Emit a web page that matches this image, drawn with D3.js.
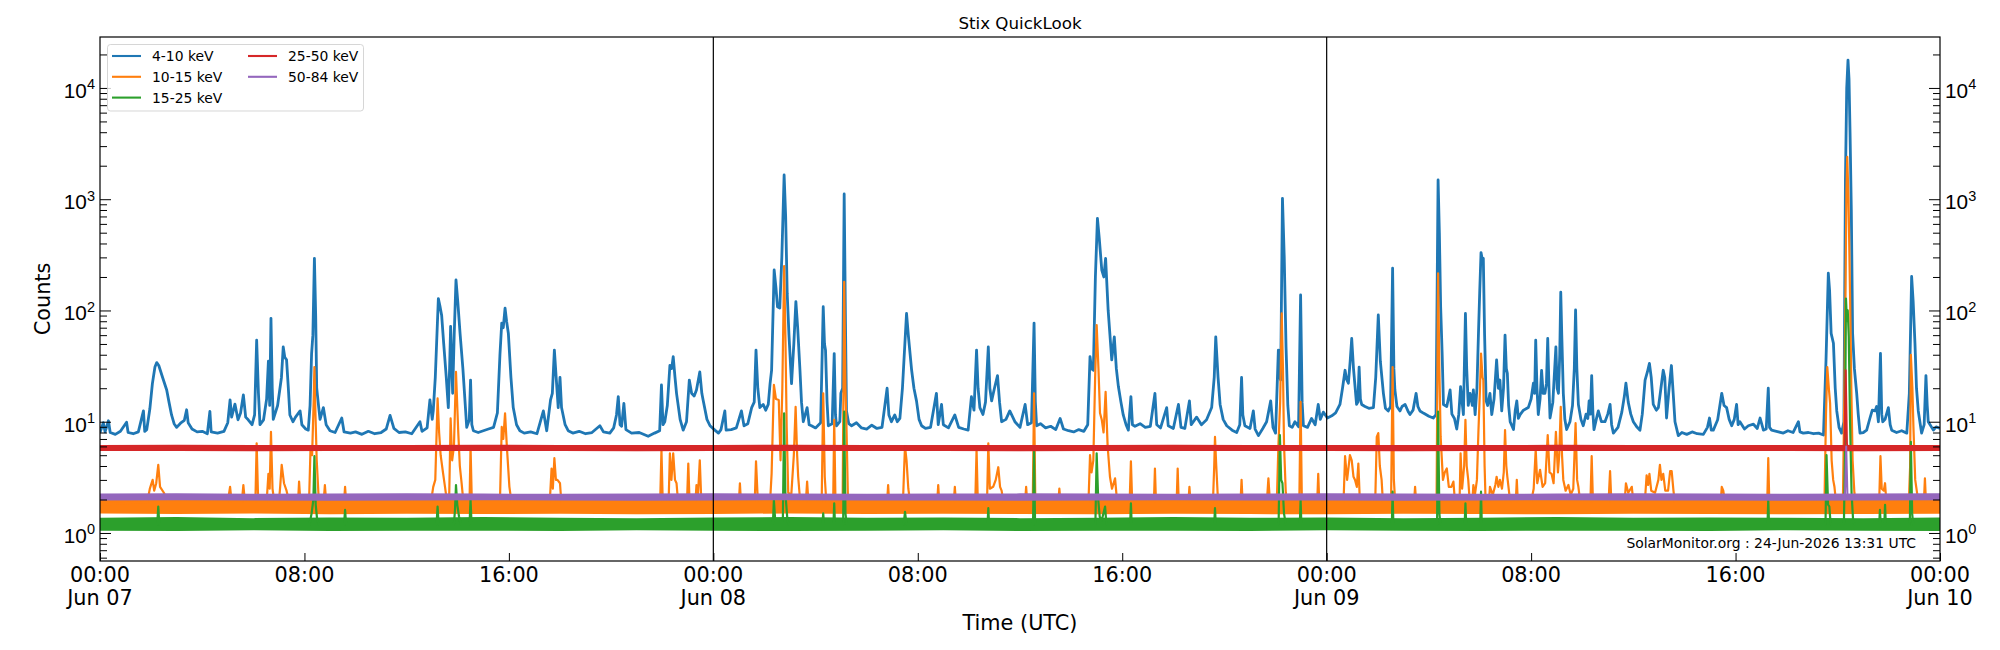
<!DOCTYPE html>
<html>
<head>
<meta charset="utf-8">
<script src="https://cdn.jsdelivr.net/npm/d3@7"></script>
<style>
body { margin: 0; background: #fff; }
svg { display: block; font-family: "DejaVu Sans", sans-serif; }
</style>
</head>
<body>
<svg id="chart" width="2000" height="650"></svg>
<script>
// times are hours since 2026-06-07 00:00 UTC, values are counts
var blue410 = [[0,8.0],[0.13,9.8],[0.2,8.1],[0.33,10.2],[0.4,8.0],[0.6,7.7],[0.8,8.2],[1.04,9.9],[1.1,8.0],[1.3,7.8],[1.5,8.1],[1.7,12.5],[1.75,8.2],[1.83,8.5],[1.95,13],[2.05,22],[2.15,31],[2.22,34],[2.3,32],[2.45,25],[2.61,19.3],[2.7,15],[2.8,11.5],[2.9,9.6],[3.0,8.9],[3.15,9.7],[3.3,10.3],[3.39,12.8],[3.45,9.8],[3.6,8.6],[3.8,8.1],[4.0,8.2],[4.2,7.8],[4.3,12.4],[4.35,8.1],[4.6,7.9],[4.85,8.2],[5.0,9.8],[5.09,15.7],[5.15,11],[5.28,14.4],[5.4,10.4],[5.5,12],[5.61,17.4],[5.7,11],[5.8,10.4],[5.95,9.4],[6.05,11.5],[6.13,54],[6.2,18],[6.26,9.4],[6.4,10.4],[6.52,16],[6.59,35],[6.64,14],[6.69,85],[6.74,20],[6.78,10.5],[6.95,14],[7.1,25],[7.17,47],[7.23,38],[7.3,36],[7.37,20],[7.43,11.5],[7.55,10],[7.65,11],[7.83,12.5],[7.9,9.4],[8.05,8.6],[8.15,8.4],[8.22,14],[8.28,41],[8.33,60],[8.39,294],[8.44,90],[8.48,20],[8.55,14],[8.61,10.5],[8.74,13.4],[8.85,9.4],[9.0,8.3],[9.2,8.0],[9.46,10.8],[9.55,8.1],[9.8,7.9],[10.0,8.1],[10.25,7.7],[10.5,8.2],[10.75,7.8],[11.0,8.0],[11.2,8.6],[11.35,11.4],[11.5,8.7],[11.7,8.0],[11.95,8.1],[12.2,7.8],[12.52,10],[12.6,8.2],[12.8,8.8],[12.91,15.7],[13.0,10.5],[13.04,12.5],[13.12,25],[13.24,128],[13.3,110],[13.37,90],[13.45,50],[13.55,25],[13.63,13.4],[13.68,30],[13.72,72],[13.76,35],[13.8,18],[13.86,60],[13.93,188],[14.0,120],[14.09,62],[14.2,30],[14.35,8.9],[14.45,10.4],[14.5,23.7],[14.55,9.4],[14.61,8.3],[14.8,8.0],[15.0,8.3],[15.2,8.6],[15.4,8.9],[15.55,12],[15.65,40],[15.72,77],[15.78,70],[15.85,105],[15.91,80],[15.98,62],[16.08,25],[16.17,13.4],[16.3,9.4],[16.43,8.3],[16.6,7.9],[16.85,8.1],[17.1,7.8],[17.35,12.5],[17.48,8.3],[17.63,15.7],[17.7,18],[17.78,44],[17.85,25],[17.93,13.4],
[18.0,25],[18.06,13.4],[18.2,9.4],[18.32,8.3],[18.5,7.9],[18.75,8.2],[19.0,7.8],[19.25,8.0],[19.56,9.2],[19.7,8.1],[19.95,7.9],[20.1,8.8],[20.21,11.5],[20.28,16.8],[20.35,9.4],[20.41,9.1],[20.5,14.6],[20.58,8.5],[20.8,7.9],[21.1,8.0],[21.45,7.4],[21.7,7.9],[21.9,8.3],[21.97,21.4],[22.03,9.4],[22.1,10],[22.2,14],[22.3,32],[22.37,30],[22.43,38.5],[22.5,25],[22.56,18],[22.7,10.5],[22.82,8.4],[22.95,10],[23.06,23.7],[23.15,18],[23.25,17],[23.34,19.3],[23.47,28],[23.55,18],[23.6,15.7],[23.75,10.5],[23.87,9.2],[24.06,8.4],[24.2,7.9],[24.3,8.5],[24.45,12.5],[24.5,8.4],[24.7,8.5],[24.9,8.8],[25.1,12.5],[25.2,9.2],[25.35,9.6],[25.5,13.4],[25.6,15],[25.67,44],[25.74,20],[25.82,13.4],[25.95,14.3],[26.05,12.7],[26.15,14.3],[26.22,22],[26.28,29],[26.38,231],[26.45,160],[26.51,108],[26.6,105],[26.68,300],[26.77,1650],[26.83,700],[26.89,143],[26.96,60],[27.06,22],[27.15,50],[27.23,120],[27.3,70],[27.39,29],[27.45,15],[27.52,10],[27.67,13.4],[27.75,9.4],[27.84,9.2],[28.0,8.8],[28.2,9.8],[28.3,108],[28.35,50],[28.39,44],[28.45,15],[28.5,9.2],[28.65,9.6],[28.73,41],[28.78,11.5],[28.82,9.2],[28.95,10],[28.99,18],[29.06,20],[29.12,1114],[29.17,80],[29.21,12.5],[29.3,9.6],[29.41,9.2],[29.6,9.8],[29.8,8.8],[30.0,8.6],[30.2,9.3],[30.4,8.7],[30.6,8.9],[30.8,20],[30.87,11.5],[30.97,10],[31.1,11.5],[31.2,10],[31.3,10.7],[31.4,20],[31.46,35.9],[31.56,94],[31.63,60],[31.76,29],[31.85,20],[31.95,15.4],[32.05,10.5],[32.15,9.2],[32.3,8.7],[32.5,8.9],[32.73,18],[32.8,9.4],[32.93,14.3],[33.0,9.4],[33.2,8.8],[33.45,11.5],[33.6,8.9],[33.8,8.6],[33.97,8.4],[34.1,16.8],[34.2,12.7],[34.3,44],[34.36,20],[34.43,13.4],[34.55,11.6],[34.65,15],[34.76,47],[34.82,20],[34.89,15.4],[35.0,20],[35.12,26],[35.2,15],[35.28,10],[35.45,10.5],[35.6,12.5],
[35.8,10],[36.0,8.9],[36.2,14.3],[36.3,9.4],[36.45,9.8],[36.55,77],[36.6,15],[36.65,9.2],[36.8,9.6],[37.0,8.8],[37.2,9.1],[37.4,8.5],[37.57,10.7],[37.7,8.6],[37.9,8.3],[38.1,8.1],[38.3,8.5],[38.5,8.2],[38.65,9.4],[38.74,38.5],[38.8,30],[38.87,29],[38.95,200],[39.03,673],[39.1,450],[39.2,231],[39.28,200],[39.35,294],[39.45,100],[39.59,35.9],[39.69,58],[39.77,30],[39.85,20.7],[39.95,15],[40.04,11.5],[40.15,9.4],[40.24,8.4],[40.34,16.8],[40.4,9.4],[40.5,9.1],[40.7,9.6],[40.9,8.9],[41.1,9.1],[41.28,18],[41.35,9.4],[41.5,8.8],[41.74,13.4],[41.8,9.2],[42.0,8.7],[42.2,14.3],[42.3,8.9],[42.45,8.7],[42.63,15.4],[42.7,9.4],[42.91,11],[43.1,9.4],[43.3,10.4],[43.5,13.4],[43.6,25],[43.66,58],[43.75,25],[43.83,14.3],[43.95,10.5],[44.09,9.2],[44.3,8.4],[44.48,8.0],[44.6,9.4],[44.67,25],[44.72,11.5],[44.8,9.2],[45.0,8.7],[45.13,12.5],[45.2,8.6],[45.33,7.5],[45.5,8.7],[45.65,10],[45.81,15.4],[45.9,8.9],[46.0,7.9],[46.11,44],[46.16,25],[46.2,23.7],[46.27,1019],[46.34,300],[46.41,47],[46.48,14],[46.54,9.2],[46.65,8.9],[46.76,10],[46.9,9.0],[46.98,138],[47.04,15],[47.09,9.2],[47.25,8.9],[47.41,10.7],[47.55,9.4],[47.67,14.3],[47.75,10.5],[47.87,12.2],[48.03,10.8],[48.2,11.3],[48.35,12],[48.52,14.3],[48.62,20],[48.72,29],[48.78,24],[48.85,22.2],[48.92,35],[48.98,56],[49.05,30],[49.17,14.3],[49.22,15],[49.27,31],[49.32,16],[49.37,14.3],[49.5,13.7],[49.65,13.2],[49.83,13.4],[49.92,25],[50.02,91],[50.1,35],[50.22,18],[50.3,13.2],[50.41,12.5],[50.5,13.7],[50.58,240],[50.63,30],[50.67,19.3],[50.75,13.7],[50.87,12.5],[50.95,13.7],[51.07,14.3],[51.2,12.2],[51.26,11.6],[51.38,12.7],[51.5,18],[51.57,13.7],[51.65,12.5],[51.8,11.9],[52.0,11.2],[52.17,10.8],[52.28,11.6],[52.36,1490],[52.41,500],[52.46,108],[52.52,40],[52.57,14.3],[52.7,13.7],[52.83,19.3],[52.9,11.7],[53.0,10.7],[53.09,8.6],[53.17,11.7],[53.24,20.7],[53.3,15],[53.35,11.6],[53.43,94],[53.48,30],[53.54,14],
[53.61,18],[53.7,14],[53.74,19.3],[53.81,11.6],[53.88,20],[53.94,62],[53.99,150],[54.04,331],[54.1,280],[54.13,294],[54.18,60],[54.24,15.4],[54.3,14],[54.39,18],[54.46,11.6],[54.55,16],[54.65,35.9],[54.72,20],[54.78,23.7],[54.85,12.5],[54.92,20],[54.98,60],[55.03,30],[55.07,27.2],[55.12,14],[55.18,10],[55.31,8.5],[55.38,12.7],[55.44,15.4],[55.5,10.7],[55.57,11.6],[55.7,12.7],[55.89,13.4],[56.0,16],[56.09,22.2],[56.14,18],[56.18,54],[56.23,20],[56.28,11.6],[56.35,16],[56.41,29],[56.47,18],[56.54,18],[56.6,22],[56.65,56],[56.7,20],[56.74,10.8],[56.85,15],[56.97,47],[57.02,20],[57.07,18],[57.12,40],[57.16,146],[57.2,60],[57.26,18],[57.32,10.5],[57.39,8.5],[57.52,10],[57.62,14],[57.69,30],[57.74,101],[57.79,30],[57.85,14.3],[57.95,10.5],[58.04,9.2],[58.15,11.7],[58.22,10.7],[58.27,15.4],[58.32,11.7],[58.37,26],[58.42,11.7],[58.46,8.5],[58.55,10.5],[58.63,12.5],[58.75,10],[58.89,10],[59.0,11.7],[59.09,14.3],[59.15,9.4],[59.22,7.9],[59.4,8.9],[59.55,12.2],[59.65,17],[59.71,22.2],[59.8,15],[59.9,11.7],[60.0,10],[60.15,8.9],[60.26,8.4],[60.35,11.7],[60.46,23.7],[60.55,28],[60.63,33.5],[60.7,25],[60.78,14.3],[60.9,12.7],[60.98,13.4],[61.08,20],[61.17,29],[61.23,25],[61.3,10.8],[61.4,20],[61.49,32],[61.56,18],[61.63,10],[61.76,7.5],[61.9,8.0],[62.09,7.7],[62.3,8.1],[62.5,7.8],[62.74,7.7],[62.9,8.9],[62.98,10.8],[63.05,8.4],[63.13,8.4],[63.3,10.4],[63.46,18],[63.55,14],[63.65,13.4],[63.75,10.5],[63.85,9.2],[63.95,10.5],[64.04,14.3],[64.1,9.4],[64.17,10],[64.35,8.6],[64.5,9.2],[64.7,9.5],[64.85,8.7],[64.96,10.8],[65.09,8.4],[65.2,8.6],[65.28,20],[65.33,8.9],[65.41,8.4],[65.6,8.2],[65.87,7.9],[66.05,8.3],[66.25,8.0],[66.46,10],[66.52,8.1],[66.65,7.9],[66.85,8.0],[67.05,7.8],[67.25,7.9],[67.44,7.6],[67.54,35.9],[67.63,216],[67.68,150],[67.74,62.3],[67.83,50.7],[67.9,20],[67.96,12.5],[68.05,8.9],[68.15,7.9],[68.24,10],[68.3,1500],[68.35,10000],[68.4,17800],[68.44,12000],[68.48,4000],[68.53,800],[68.58,62.3],[68.65,30],[68.74,18],[68.8,11.7],[68.87,7.9],[69.0,8.0],[69.13,8.4],[69.26,10.8],[69.35,12.7],[69.46,12.5],[69.52,13.7],[69.59,10],[69.67,41.2],[69.72,11.7],[69.76,10],[69.85,10.5],[69.98,13.4],[70.05,9.4],[70.11,8.4],[70.3,8.0],[70.5,8.3],[70.7,7.9],[70.8,18],[70.89,202],[70.95,120],[71.02,50.7],[71.08,20],[71.15,12.5],[71.28,7.9],[71.38,9.4],[71.45,26],[71.5,14],[71.54,10],[71.74,8.4],[71.85,9.0],[72.0,8.7]];

var orange1015 = [[0,1.8],[1.85,1.9],[1.95,2.5],[2.06,3.0],[2.12,2.4],[2.2,2.8],[2.28,4.1],[2.35,2.6],[2.5,2.3],[2.65,1.9],[5.0,1.9],[5.09,2.6],[5.15,1.9],[5.55,1.9],[5.61,2.7],[5.67,1.9],[6.08,1.9],[6.13,6.4],[6.19,1.9],[6.52,1.9],[6.59,3.4],[6.64,2.5],[6.69,8.1],[6.75,2.5],[6.82,1.9],[7.0,1.9],[7.05,2.6],[7.11,4.1],[7.2,2.8],[7.3,2.4],[7.4,1.9],[7.75,1.9],[7.79,2.9],[7.84,1.9],[8.18,1.9],[8.24,6.0],[8.3,5],[8.36,15],[8.39,31],[8.43,12],[8.48,4.5],[8.55,2.2],[8.75,1.9],[8.8,2.7],[8.85,1.9],[9.55,1.9],[9.59,2.6],[9.63,1.9],[12.95,1.9],[13.04,2.6],[13.12,3],[13.21,16.2],[13.27,8],[13.33,5],[13.42,3.5],[13.5,2.6],[13.58,1.9],[13.66,1.9],[13.72,10.7],[13.78,4.5],[13.85,6],[13.93,28],[14.02,7.9],[14.08,4],[14.15,2.8],[14.22,1.9],[14.46,1.9],[14.5,6.0],[14.55,1.9],[15.65,1.9],[15.72,9.0],[15.78,7],[15.85,11.9],[15.92,6],[16.02,2.6],[16.1,1.9],[17.6,1.9],[17.67,3.8],[17.72,2.5],[17.78,4.7],[17.84,3],[17.9,3.0],[18.0,2.8],[18.05,1.9],
[21.92,1.9],[21.97,5.6],[22.02,1.9],[22.25,1.9],[22.3,5.2],[22.36,3],[22.43,5.2],[22.5,3],[22.56,2.8],[22.62,1.9],[22.97,1.9],[23.02,4.2],[23.07,1.9],[23.3,1.9],[23.34,2.7],[23.4,2.2],[23.47,4.5],[23.53,1.9],[25.0,1.9],[25.04,2.8],[25.08,1.9],[25.62,1.9],[25.67,4.4],[25.73,2.2],[25.8,1.9],[26.22,1.9],[26.28,3.4],[26.37,21.4],[26.45,16],[26.56,15.7],[26.63,4.5],[26.7,20],[26.77,251],[26.82,60],[26.87,9.0],[26.93,2.3],[27.05,2.2],[27.15,5],[27.22,13.6],[27.28,5],[27.32,3.2],[27.4,1.9],[27.62,1.9],[27.67,2.9],[27.72,1.9],[28.24,1.9],[28.3,18],[28.36,3.2],[28.42,1.9],[28.69,1.9],[28.73,10.4],[28.78,1.9],[29.06,1.9],[29.12,181],[29.17,20],[29.21,9.0],[29.27,1.9],[30.8,1.9],[30.84,2.7],[30.88,1.9],[31.42,1.9],[31.47,4],[31.5,6.0],[31.56,4.5],[31.63,2.5],[31.7,1.9],[32.76,1.9],[32.8,2.7],[32.84,1.9],[33.41,1.9],[33.45,2.6],[33.49,1.9],[34.25,1.9],[34.3,5.6],[34.35,1.9],[34.71,1.9],[34.76,6.4],[34.82,2.5],[34.95,2.6],[35.05,3],[35.15,3.9],[35.22,2.6],[35.28,2.4],[35.35,1.9],
[36.2,1.9],[36.24,2.6],[36.28,1.9],[36.5,1.9],[36.55,18],[36.6,1.9],[37.5,1.9],[37.54,2.5],[37.58,1.9],[38.68,1.9],[38.74,5.0],[38.8,3.5],[38.87,4.5],[38.94,25],[39.0,74],[39.07,30],[39.13,12],[39.2,10.4],[39.27,8],[39.35,18.6],[39.43,6],[39.52,3.2],[39.6,2.5],[39.72,3.1],[39.8,1.9],[40.29,1.9],[40.34,4.4],[40.39,1.9],[41.24,1.9],[41.28,3.8],[41.32,1.9],[42.13,1.9],[42.17,3.8],[42.21,1.9],[42.59,1.9],[42.63,2.6],[42.67,1.9],[43.55,1.9],[43.6,4],[43.63,7.3],[43.68,4],[43.75,1.9],[44.63,1.9],[44.67,3.0],[44.71,1.9],[45.66,1.9],[45.72,3.1],[45.78,1.9],[46.05,1.9],[46.11,6.0],[46.18,15],[46.24,94],[46.29,30],[46.33,6.4],[46.4,2.3],[46.46,1.9],[46.93,1.9],[46.98,15.1],[47.03,1.9],[47.63,1.9],[47.67,3.4],[47.71,1.9],[48.66,1.9],[48.72,4.9],[48.8,3],[48.91,5.0],[48.98,4.5],[49.05,3.2],[49.11,3.0],[49.18,2.6],[49.24,4.2],[49.3,1.9],[49.9,1.9],[49.96,7.3],[50.02,7.9],[50.08,4],[50.15,3.0],[50.2,1.9],[50.52,1.9],[50.58,31],[50.63,3],[50.68,1.9],[51.42,1.9],[51.46,2.6],[51.5,1.9],[52.3,1.9],[52.36,216],[52.41,30],[52.46,7.3],[52.55,3],[52.62,3.5],[52.7,3.8],[52.78,2.6],[52.88,2.6],[52.96,2.9],[53.02,1.9],[53.2,1.9],[53.24,5.2],[53.3,2.5],[53.38,4],[53.43,10.4],[53.48,4],[53.54,3.0],[53.6,1.9],
[53.7,1.9],[53.74,2.7],[53.8,2.2],[53.88,3],[53.94,8.4],[54.0,20],[54.04,41],[54.1,25],[54.13,23.7],[54.18,4],[54.22,1.9],[54.35,1.9],[54.39,2.6],[54.5,2.2],[54.6,2.7],[54.65,3.2],[54.72,2.6],[54.78,3.0],[54.86,2.5],[54.93,3.5],[54.98,8.4],[55.03,4],[55.07,3.2],[55.15,2.2],[55.25,1.9],[55.4,1.9],[55.44,3.0],[55.48,1.9],[56.0,1.9],[56.1,2.5],[56.18,5.6],[56.24,2.8],[56.35,3.7],[56.45,2.6],[56.55,2.8],[56.65,7.6],[56.72,3.5],[56.8,3.4],[56.88,2.8],[56.97,8.1],[57.05,3.5],[57.1,5],[57.16,13.6],[57.21,5],[57.26,3.0],[57.35,2.4],[57.46,2.7],[57.55,2.2],[57.65,2.5],[57.74,9.7],[57.8,3],[57.85,2.6],[57.92,1.9],[58.32,1.9],[58.37,4.9],[58.42,1.9],[59.03,1.9],[59.09,3.6],[59.14,1.9],[59.66,1.9],[59.71,2.8],[59.8,2.3],[59.94,2.6],[60.0,1.9],[60.45,1.9],[60.52,3.3],[60.58,2.7],[60.63,3.4],[60.7,2.4],[60.85,2.3],[60.98,3],[61.04,4.1],[61.1,3],[61.17,3.4],[61.25,2.4],[61.36,2.4],[61.44,3.6],[61.5,3.6],[61.57,2.4],[61.62,1.9],[63.42,1.9],[63.46,2.6],[63.52,2.4],[63.58,1.9],[65.24,1.9],[65.28,4.7],[65.32,1.9],[67.48,1.9],[67.54,11.9],[67.59,31],[67.65,20],[67.7,14.6],[67.76,4.5],[67.82,3],[67.87,2.6],[67.93,1.9],[68.2,1.9],[68.26,20],[68.3,143],[68.34,1200],[68.37,2400],[68.42,1000],[68.48,143],[68.53,20],[68.58,4.5],[68.65,2.3],[68.7,1.9],[69.62,1.9],[69.67,4.9],[69.72,2.5],[69.8,2.4],[69.85,2.8],[69.9,1.9],[70.78,1.9],[70.83,3.9],[70.86,40],[70.92,20],[70.96,9.0],[71.03,3],[71.09,2.4],[71.15,1.9],[71.37,1.9],[71.41,3.1],[71.45,1.9],[72,1.9]];

var green1525 = [[0,1.2],[2.24,1.2],[2.28,1.73],[2.32,1.2],[8.2,1.2],[8.28,1.5],[8.35,2.0],[8.39,4.9],[8.44,1.8],[8.5,1.3],[8.56,1.2],[9.55,1.2],[9.59,1.61],[9.63,1.2],[13.17,1.2],[13.21,1.73],[13.25,1.2],[13.85,1.2],[13.89,1.6],[13.93,2.7],[13.98,1.8],[14.05,1.4],[14.12,1.2],[14.46,1.2],[14.5,1.98],[14.54,1.2],[26.33,1.2],[26.37,1.98],[26.42,1.3],[26.72,1.3],[26.77,11.9],[26.82,2.27],[26.9,1.3],[26.95,1.2],[28.27,1.2],[28.3,1.5],[28.33,1.2],[28.7,1.2],[28.73,1.85],[28.76,1.2],[29.08,1.2],[29.12,12.3],[29.17,1.5],[29.22,1.2],[31.45,1.2],[31.5,1.55],[31.56,1.2],[34.73,1.2],[34.76,1.67],[34.79,1.2],[36.51,1.2],[36.55,5.4],[36.59,1.2],[38.95,1.2],[39.0,5.2],[39.06,2],[39.12,1.4],[39.2,1.3],[39.33,1.73],[39.38,1.2],[40.31,1.2],[40.34,1.85],[40.37,1.2],[43.6,1.2],[43.63,1.67],[43.66,1.2],[46.12,1.2],[46.17,7.6],[46.22,3],[46.27,2.8],[46.33,1.5],[46.4,1.2],[46.95,1.2],[46.98,1.98],[47.01,1.2],[50.55,1.2],[50.58,2.35],[50.61,1.2],[52.32,1.2],[52.36,12.3],[52.41,1.5],[52.45,1.2],[53.4,1.2],[53.43,1.85],[53.46,1.2],[54.01,1.2],[54.04,2.35],[54.07,1.2],[65.25,1.2],[65.28,1.98],[65.31,1.2],[67.52,1.2],[67.56,5.0],[67.62,1.8],[67.67,1.73],[67.72,1.2],[68.24,1.2],[68.28,5],[68.32,128],[68.36,80],[68.39,100],[68.43,58],[68.48,10],[68.54,2.27],[68.6,1.3],[68.65,1.2],[69.62,1.2],[69.65,1.61],[69.68,1.2],[69.82,1.2],[69.85,1.79],[69.88,1.2],[70.82,1.2],[70.86,6.6],[70.91,1.5],[70.95,1.2],[72,1.2]];

var red2550 = [[0,5.8],[68.26,5.8],[68.31,29],[68.36,6.3],[68.4,5.8],[72,5.8]];
var purple5084 = [[0,2.1],[68.28,2.1],[68.33,6.0],[68.38,2.1],[72,2.1]];

// noise envelopes (lower, upper) of the dense bands, every 3 hours
var bandHours = [0,3,6,9,12,15,18,21,24,27,30,33,36,39,42,45,48,51,54,57,60,63,66,69,72];
var orangeLow = [1.50,1.48,1.50,1.47,1.49,1.48,1.49,1.47,1.48,1.50,1.48,1.49,1.48,1.47,1.49,1.48,1.47,1.49,1.48,1.47,1.49,1.48,1.47,1.48,1.49];
var orangeHigh = [2.20,2.22,2.20,2.18,2.21,2.20,2.22,2.19,2.20,2.21,2.20,2.22,2.20,2.19,2.21,2.20,2.22,2.20,2.19,2.21,2.20,2.20,2.22,2.20,2.21];
var greenLow = [1.05,1.04,1.06,1.04,1.05,1.05,1.04,1.06,1.05,1.04,1.05,1.06,1.04,1.05,1.05,1.04,1.06,1.05,1.04,1.05,1.05,1.04,1.06,1.05,1.04];
var greenHigh = [1.37,1.39,1.36,1.38,1.37,1.39,1.37,1.36,1.38,1.39,1.37,1.38,1.36,1.37,1.39,1.37,1.38,1.36,1.37,1.39,1.37,1.38,1.37,1.36,1.38];
var redLow = [5.45,5.47,5.44,5.46,5.45,5.47,5.45,5.44,5.46,5.47,5.45,5.46,5.44,5.45,5.47,5.45,5.46,5.44,5.45,5.47,5.45,5.46,5.45,5.44,5.46];
var redHigh = [6.18,6.20,6.17,6.19,6.18,6.21,6.18,6.17,6.19,6.20,6.18,6.19,6.17,6.18,6.20,6.18,6.19,6.17,6.18,6.20,6.18,6.19,6.18,6.17,6.19];
var purpleLow = [1.96,1.97,1.96,1.95,1.96,1.97,1.96,1.95,1.96,1.97,1.96,1.96,1.95,1.96,1.97,1.96,1.96,1.95,1.96,1.97,1.96,1.96,1.95,1.96,1.97];
var purpleHigh = [2.26,2.27,2.25,2.26,2.27,2.26,2.25,2.26,2.27,2.26,2.25,2.26,2.27,2.26,2.25,2.26,2.27,2.26,2.25,2.26,2.27,2.26,2.25,2.26,2.27];

var seriesNames = ["4-10 keV", "10-15 keV", "15-25 keV", "25-50 keV", "50-84 keV"];
var seriesColors = ["#1f77b4", "#ff7f0e", "#2ca02c", "#d62728", "#9467bd"];
var yTickExps = [0, 1, 2, 3, 4];
var dayLines = [24, 48];

var t0 = Date.UTC(2026, 5, 7);
function toDate(h) { return new Date(t0 + h * 3600000); }

var W = 1840, H = 524;
var svg = d3.select("#chart");
svg.append("rect").attr("width", 2000).attr("height", 650).attr("fill", "#fff");
var g = svg.append("g").attr("transform", "translate(100,37)");

var x = d3.scaleUtc().domain([toDate(0), toDate(72)]).range([0, W]);
var y = d3.scaleLog().domain([0.56, 28700]).range([H, 0]);

svg.append("defs").append("clipPath").attr("id", "clip")
	.append("rect").attr("width", W).attr("height", H);
var plot = g.append("g").attr("clip-path", "url(#clip)");

var line = d3.line().x(d => x(toDate(d[0]))).y(d => y(d[1]));
var band = d3.area()
	.x((d, i) => x(toDate(bandHours[i])))
	.y0(d => y(d[0]))
	.y1(d => y(d[1]));

function drawLine(data, color, width) {
	plot.append("path").datum(data)
		.attr("d", line)
		.attr("fill", "none")
		.attr("stroke", color)
		.attr("stroke-width", width)
		.attr("stroke-linejoin", "round");
}
function drawBand(lo, hi, color) {
	plot.append("path").datum(d3.zip(lo, hi)).attr("d", band).attr("fill", color);
}

drawLine(blue410, seriesColors[0], 2.8);
drawBand(orangeLow, orangeHigh, seriesColors[1]);
drawLine(orange1015, seriesColors[1], 2.2);
drawBand(greenLow, greenHigh, seriesColors[2]);
drawLine(green1525, seriesColors[2], 2.2);
drawBand(redLow, redHigh, seriesColors[3]);
drawLine(red2550, seriesColors[3], 2);
drawBand(purpleLow, purpleHigh, seriesColors[4]);
drawLine(purple5084, seriesColors[4], 2);

// day separators
g.selectAll(".dayline").data(dayLines).enter().append("line")
	.attr("x1", d => x(toDate(d))).attr("x2", d => x(toDate(d)))
	.attr("y1", 0).attr("y2", H)
	.attr("stroke", "#000").attr("stroke-width", 1.2);

// y ticks on both sides
var yMajor = yTickExps.map(e => Math.pow(10, e));
var yMinor = y.ticks().filter(v => Math.abs(Math.log10(v) - Math.round(Math.log10(v))) > 1e-6);

function yAxis(side) {
	var mk = () => (side == "left" ? d3.axisLeft(y) : d3.axisRight(y));
	var gx = g.append("g").attr("transform", side == "left" ? "" : "translate(" + W + ",0)");
	gx.call(mk().tickValues(yMajor).tickSize(-11).tickFormat(""));
	gx.append("g").call(mk().tickValues(yMinor).tickSize(-7).tickFormat(""));
	gx.selectAll(".domain").remove();
	gx.selectAll("line").attr("stroke", "#000").attr("stroke-width", 1);
	var lab = gx.selectAll(".lab").data(yTickExps).enter().append("text")
		.attr("x", side == "left" ? -5 : 5)
		.attr("y", d => y(Math.pow(10, d)) + 10)
		.attr("text-anchor", side == "left" ? "end" : "start")
		.style("font-size", "20.8px")
		.attr("fill", "#000");
	lab.append("tspan").text("10");
	lab.append("tspan").attr("dy", -8.5).style("font-size", "14.5px").text(d => d);
}
yAxis("left");
yAxis("right");

// x ticks
var xTicks = x.ticks(d3.utcHour.every(8));
var xg = g.append("g").attr("transform", "translate(0," + H + ")")
	.call(d3.axisBottom(x).tickValues(xTicks).tickSize(-8).tickFormat(""));
xg.selectAll(".domain").remove();
xg.selectAll("line").attr("stroke", "#000").attr("stroke-width", 1);
var fmtTime = d3.utcFormat("%H:%M"), fmtDay = d3.utcFormat("%b %d");
var xl = g.selectAll(".xlab").data(xTicks).enter().append("text")
	.attr("text-anchor", "middle")
	.style("font-size", "20.8px")
	.attr("fill", "#000");
xl.append("tspan").attr("x", d => x(d)).attr("y", H + 21).text(d => fmtTime(d));
xl.filter(d => d.getUTCHours() == 0).append("tspan").attr("x", d => x(d)).attr("y", H + 44).text(d => fmtDay(d));

// frame
g.append("rect").attr("width", W).attr("height", H)
	.attr("fill", "none").attr("stroke", "#000").attr("stroke-width", 1.2);

// texts
svg.append("text").attr("x", 1020).attr("y", 29).attr("text-anchor", "middle")
	.style("font-size", "16.7px").text("Stix QuickLook");
svg.append("text").attr("x", 1020).attr("y", 630).attr("text-anchor", "middle")
	.style("font-size", "20.8px").text("Time (UTC)");
svg.append("text").attr("transform", "translate(50,299) rotate(-90)").attr("text-anchor", "middle")
	.style("font-size", "20.8px").text("Counts");
svg.append("text").attr("x", 1916).attr("y", 548).attr("text-anchor", "end")
	.style("font-size", "13.9px").text("SolarMonitor.org : 24-Jun-2026 13:31 UTC");

// legend
var leg = svg.append("g");
leg.append("rect").attr("x", 107.5).attr("y", 44.5).attr("width", 256).attr("height", 66.5).attr("rx", 3)
	.attr("fill", "#fff").attr("fill-opacity", 0.8).attr("stroke", "#ccc").attr("stroke-opacity", 0.8);
var items = leg.selectAll(".item").data(seriesNames).enter().append("g")
	.attr("transform", (d, i) => "translate(" + (i < 3 ? 112 : 248) + "," + (56 + (i % 3) * 20.8) + ")");
items.append("line").attr("x1", 0).attr("x2", 29).attr("stroke", (d, i) => seriesColors[i]).attr("stroke-width", 2.1);
items.append("text").attr("x", 40).attr("y", 5).style("font-size", "13.9px").text(d => d);
</script>
</body>
</html>
